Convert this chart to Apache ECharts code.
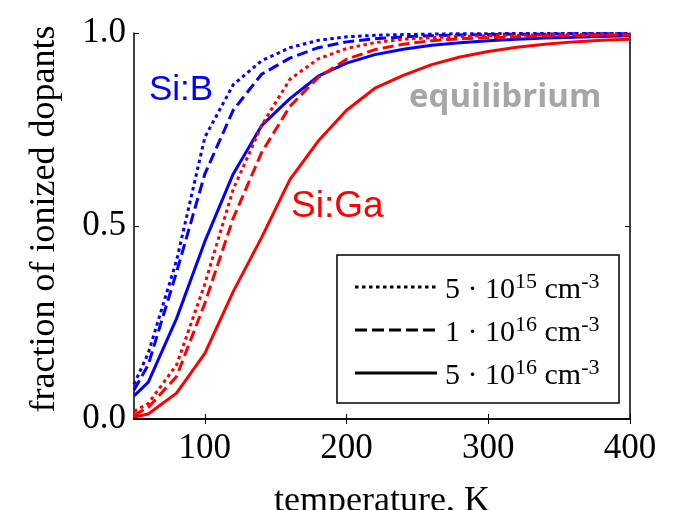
<!DOCTYPE html>
<html>
<head>
<meta charset="utf-8">
<script src="https://cdn.jsdelivr.net/npm/echarts@6/dist/echarts.min.js"></script>
<style>
  html, body { margin: 0; padding: 0; background: #ffffff; }
  #chart { width: 679px; height: 510px; }
</style>
</head>
<body>
<div id="chart"></div>
<script>
// Temperature grid (K) of the ionization curves
const temperature = [50, 60, 80, 100, 120, 140, 160, 180, 200, 220, 240, 260, 280, 300, 320, 340, 360, 380, 400];

// Fraction of ionized dopants, boron-doped silicon
const siB_5e15 = [0.09, 0.17, 0.41, 0.73, 0.866, 0.928, 0.962, 0.981, 0.99, 0.994, 0.996, 0.997, 0.998, 0.998, 0.999, 0.999, 0.999, 0.999, 0.999];
const siB_1e16 = [0.075, 0.14, 0.38, 0.635, 0.80, 0.893, 0.935, 0.962, 0.977, 0.985, 0.99, 0.993, 0.995, 0.996, 0.997, 0.997, 0.998, 0.998, 0.998];
const siB_5e16 = [0.06, 0.095, 0.26, 0.46, 0.635, 0.76, 0.83, 0.888, 0.922, 0.944, 0.958, 0.968, 0.975, 0.98, 0.984, 0.987, 0.989, 0.991, 0.993];

// Fraction of ionized dopants, gallium-doped silicon
const siGa_5e15 = [0.02, 0.04, 0.14, 0.35, 0.595, 0.76, 0.88, 0.933, 0.96, 0.975, 0.984, 0.988, 0.991, 0.993, 0.994, 0.995, 0.996, 0.997, 0.997];
const siGa_1e16 = [0.01, 0.03, 0.11, 0.30, 0.52, 0.69, 0.81, 0.885, 0.932, 0.957, 0.971, 0.98, 0.985, 0.988, 0.99, 0.992, 0.993, 0.994, 0.995];
const siGa_5e16 = [0.005, 0.013, 0.067, 0.17, 0.33, 0.47, 0.62, 0.72, 0.80, 0.857, 0.89, 0.918, 0.938, 0.952, 0.963, 0.971, 0.977, 0.981, 0.984];

// Axis ticks
const xTicks = [100, 200, 300, 400];

// Doping concentrations shown in the legend
const legendRows = [
  { mantissa: '5', exponent: '15', dash: [3.5, 3.5] },
  { mantissa: '1', exponent: '16', dash: [12, 5] },
  { mantissa: '5', exponent: '16', dash: null }
];

const BLUE = '#0000ff';
const RED = '#ff0000';
const SERIF = '"Liberation Serif", "Times New Roman", serif';
const SANS = '"Liberation Sans", Arial, sans-serif';

function pairs(ys) { return temperature.map((t, i) => [t, ys[i]]); }

function curve(name, ys, color, dash) {
  return {
    name: name,
    type: 'line',
    data: pairs(ys),
    showSymbol: false,
    symbol: 'none',
    silent: true,
    animation: false,
    lineStyle: { color: color, width: 3, type: dash || 'solid', cap: 'butt' }
  };
}

const chart = echarts.init(document.getElementById('chart'), null, { renderer: 'canvas' });

// Legend block (box, line samples and concentration labels)
const legendX = 337, legendY = 255, legendW = 282, legendH = 148;
const legendRowY = [287, 330, 373];
const legendGraphics = [{
  type: 'rect',
  shape: { x: legendX, y: legendY, width: legendW, height: legendH },
  style: { fill: '#ffffff', stroke: '#000000', lineWidth: 1.5 },
  z: 10
}];
legendRows.forEach((row, i) => {
  const cy = legendRowY[i];
  legendGraphics.push({
    type: 'line',
    shape: { x1: legendX + 18, y1: cy, x2: legendX + 100, y2: cy },
    style: { stroke: '#000000', lineWidth: 3, lineDash: row.dash || null },
    z: 11
  });
  legendGraphics.push({
    type: 'text',
    x: legendX + 108,
    y: cy + 3,
    style: {
      text: row.mantissa + ' \u00b7 10{sup|' + row.exponent + '} cm{sup|-3}',
      fontFamily: SERIF,
      fontSize: 30,
      lineHeight: 37,
      fill: '#000000',
      verticalAlign: 'middle',
      rich: {
        sup: { fontFamily: SERIF, fontSize: 22, lineHeight: 37, verticalAlign: 'top', fill: '#000000' }
      }
    },
    z: 11
  });
});

const option = {
  animation: false,
  backgroundColor: '#ffffff',
  grid: { left: 134, right: 49, top: 33, bottom: 91, containLabel: false, outerBoundsMode: 'none' },
  xAxis: [
    {
      type: 'value', min: 50, max: 400, position: 'bottom',
      name: 'temperature, K', nameLocation: 'middle', nameGap: 65,
      nameTextStyle: { fontFamily: SERIF, fontSize: 36, color: '#000000' },
      axisLine: { show: true, lineStyle: { color: '#000000', width: 1.5 } },
      axisTick: { show: true, inside: true, length: 5, customValues: xTicks, lineStyle: { color: '#000000', width: 1 } },
      axisLabel: { show: true, customValues: xTicks, margin: 12, fontFamily: SERIF, fontSize: 35, color: '#000000' },
      splitLine: { show: false }
    },
    {
      type: 'value', min: 50, max: 400, position: 'top',
      axisLine: { show: true, lineStyle: { color: '#000000', width: 1.5 } },
      axisTick: { show: true, inside: true, length: 5, customValues: xTicks, lineStyle: { color: '#000000', width: 1 } },
      axisLabel: { show: false },
      splitLine: { show: false }
    }
  ],
  yAxis: [
    {
      type: 'value', min: 0, max: 1, interval: 0.5, position: 'left',
      axisLine: { show: true, lineStyle: { color: '#000000', width: 1.5 } },
      axisTick: { show: true, inside: true, length: 5, lineStyle: { color: '#000000', width: 1 } },
      axisLabel: { show: true, margin: 8, fontFamily: SERIF, fontSize: 35, color: '#000000', formatter: v => v.toFixed(1) },
      splitLine: { show: false }
    },
    {
      type: 'value', min: 0, max: 1, interval: 0.5, position: 'right',
      axisLine: { show: true, lineStyle: { color: '#000000', width: 1.5 } },
      axisTick: { show: true, inside: true, length: 5, lineStyle: { color: '#000000', width: 1 } },
      axisLabel: { show: false },
      splitLine: { show: false }
    }
  ],
  series: [
    curve('Si:B 5e15', siB_5e15, BLUE, [3.5, 3.5]),
    curve('Si:B 1e16', siB_1e16, BLUE, [11, 5]),
    curve('Si:B 5e16', siB_5e16, BLUE, null),
    curve('Si:Ga 5e15', siGa_5e15, RED, [3.5, 3.5]),
    curve('Si:Ga 1e16', siGa_1e16, RED, [11, 5]),
    curve('Si:Ga 5e16', siGa_5e16, RED, null)
  ],
  graphic: [
    {
      // vertical axis title
      type: 'text', x: 45, y: 219, rotation: Math.PI / 2, z: 12,
      style: { text: 'fraction of ionized dopants', fontFamily: SERIF, fontSize: 36, fill: '#000000', align: 'center', verticalAlign: 'middle' }
    },
    {
      type: 'text', x: 149, y: 90, z: 12,
      style: { text: 'Si:B', fontFamily: SANS, fontSize: 35, fill: BLUE, verticalAlign: 'middle' }
    },
    {
      type: 'text', x: 291, y: 207, z: 12,
      style: { text: 'Si:Ga', fontFamily: SANS, fontSize: 37, fill: RED, verticalAlign: 'middle' }
    },
    {
      type: 'text', x: 409, y: 98, z: 12,
      style: { text: 'equilibrium', fontFamily: '"Open Sans", sans-serif', fontWeight: 'bold', fontSize: 33, fill: '#a6a6a6', verticalAlign: 'middle' }
    }
  ].concat(legendGraphics)
};

chart.setOption(option);
</script>
</body>
</html>
